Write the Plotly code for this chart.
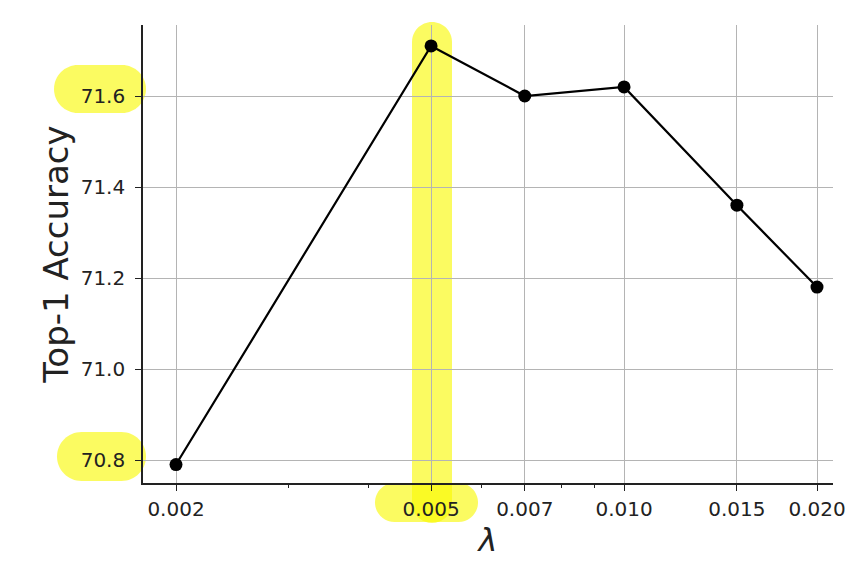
import plotly.graph_objects as go
import math

# Data
lambdas = [0.002, 0.005, 0.007, 0.010, 0.015, 0.020]
accuracy = [70.79, 71.71, 71.60, 71.62, 71.36, 71.18]
x_tick_vals = [0.002, 0.005, 0.007, 0.010, 0.015, 0.020]
x_tick_text = ["0.002", "0.005", "0.007", "0.010", "0.015", "0.020"]
x_minor_vals = [0.003, 0.004, 0.006, 0.008, 0.009]
y_tick_vals = [70.8, 71.0, 71.2, 71.4, 71.6]

OFF = 8  # page body margin
W, H = 859 - OFF, 568 - OFF
ML, MR, MT, MB = 143 - OFF, 26, 25 - OFF, 85
PW, PH = W - ML - MR, H - MT - MB


def px2paper(x, y):
    # screen pixel -> paper coords
    return (x - OFF - ML) / PW, (H - MB - (y - OFF)) / PH


def pill(x0, y0, x1, y1):
    r = min(x1 - x0, y1 - y0) / 2
    k = 0.5523 * r
    pts = [
        ("M", (x0 + r, y0)), ("L", (x1 - r, y0)),
        ("C", (x1 - r + k, y0), (x1, y0 + r - k), (x1, y0 + r)),
        ("L", (x1, y1 - r)),
        ("C", (x1, y1 - r + k), (x1 - r + k, y1), (x1 - r, y1)),
        ("L", (x0 + r, y1)),
        ("C", (x0 + r - k, y1), (x0, y1 - r + k), (x0, y1 - r)),
        ("L", (x0, y0 + r)),
        ("C", (x0, y0 + r - k), (x0 + r - k, y0), (x0 + r, y0)),
    ]
    s = ""
    for p in pts:
        coords = " ".join("%.5f,%.5f" % px2paper(*c) for c in p[1:])
        s += p[0] + coords + " "
    return s + "Z"


fig = go.Figure()
fig.add_trace(go.Scatter(
    x=lambdas, y=accuracy, mode="lines+markers",
    line=dict(color="black", width=2.2),
    marker=dict(color="black", size=13),
    showlegend=False,
))

hl = "rgba(248,248,0,0.62)"
shapes = []
for box in [(412, 22, 452, 523), (375, 483, 478, 522), (54, 65, 146, 113), (57, 432, 146, 481)]:
    shapes.append(dict(type="path", xref="paper", yref="paper", path=pill(*box),
                       fillcolor=hl, line=dict(width=0), layer="between"))

font = "DejaVu Sans"
tc = "#222222"
fig.update_layout(
    width=W, height=H,
    margin=dict(l=ML, r=MR, t=MT, b=MB, autoexpand=False),
    plot_bgcolor="white", paper_bgcolor="white",
    font=dict(family=font, color=tc),
    shapes=shapes,
    xaxis=dict(
        type="log", automargin=False,
        range=[math.log10(0.002) - 33 / 641, math.log10(0.002) + 657 / 641],
        tickmode="array", tickvals=x_tick_vals, ticktext=x_tick_text,
        tickfont=dict(size=20, family=font, color=tc),
        ticks="outside", ticklen=6, tickwidth=1.3, tickcolor=tc,
        showline=True, linecolor=tc, linewidth=1.6, mirror=False,
        showgrid=True, gridcolor="#b4b4b4", gridwidth=1.2,
        zeroline=False,
        minor=dict(tickmode="array", tickvals=x_minor_vals, ticks="outside",
                   ticklen=3.5, tickwidth=1, tickcolor=tc, showgrid=False),
        title=dict(text="<i>λ</i>", font=dict(size=32, family=font, color=tc), standoff=6),
        ticklabelstandoff=1,
    ),
    yaxis=dict(
        automargin=False,
        range=[70.8 - 23 / 455, 71.6 + 71 / 455],
        tickmode="array", tickvals=y_tick_vals, tickformat=".1f",
        tickfont=dict(size=20, family=font, color=tc),
        ticks="outside", ticklen=6, tickwidth=1.3, tickcolor=tc,
        showline=True, linecolor=tc, linewidth=1.6, mirror=False,
        showgrid=True, gridcolor="#b4b4b4", gridwidth=1.2,
        zeroline=False,
        title=dict(text="Top-1 Accuracy", font=dict(size=34, family=font, color=tc), standoff=2),
        ticklabelstandoff=6,
    ),
)

fig.write_html("out.html")
